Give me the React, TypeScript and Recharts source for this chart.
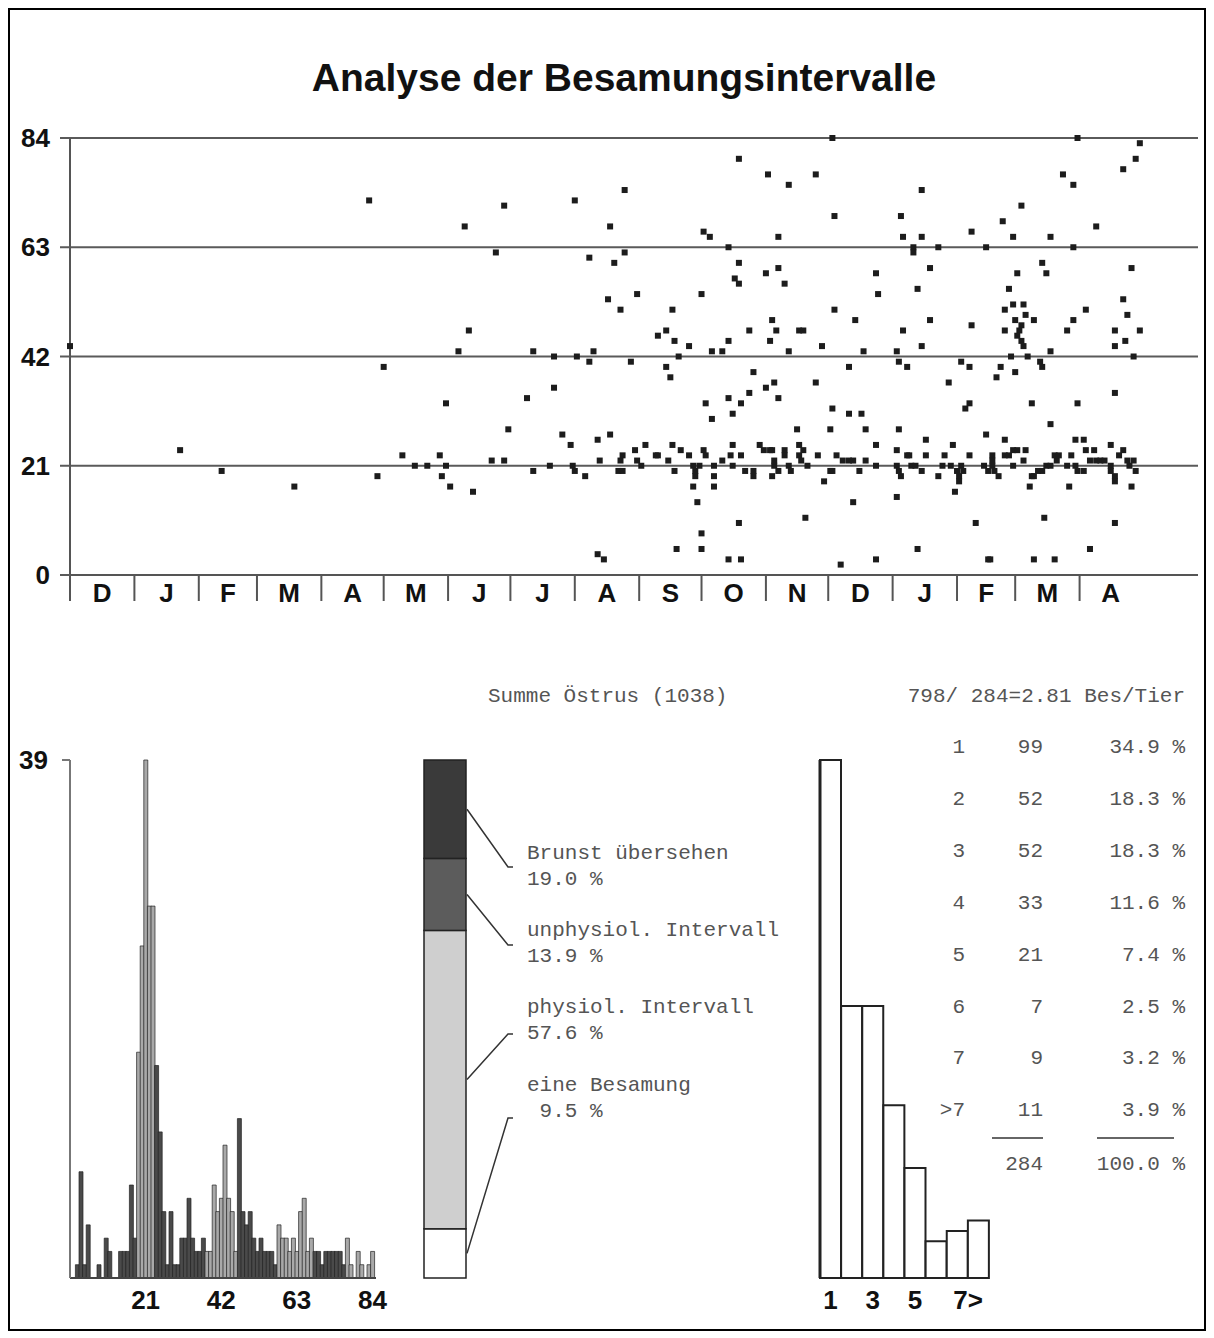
import React from 'react';
import { ScatterChart, Scatter, XAxis, YAxis, CartesianGrid, ReferenceLine, BarChart, Bar, Cell } from 'recharts';

// ---- data ----
const monthLabels = ['D', 'J', 'F', 'M', 'A', 'M', 'J', 'J', 'A', 'S', 'O', 'N', 'D', 'J', 'F', 'M', 'A'];
const monthLengths = [31, 31, 28, 31, 30, 31, 30, 31, 31, 30, 31, 30, 31, 31, 28, 31, 30];
const intervalTicks = [0, 21, 42, 63, 84];

// [day since 1 Dec, interval in days]
const scatterPoints: [number, number][] = [
  [0, 44], [144, 72], [190, 67], [209, 71], [243, 72], [205, 62], [192, 47], [187, 43], [223, 43], [233, 42], [244, 42],
  [151, 40], [181, 33], [220, 34], [233, 36], [211, 28], [237, 27], [241, 25], [53, 24], [73, 20], [108, 17], [148, 19],
  [160, 23], [166, 21], [172, 21], [178, 23], [181, 21], [179, 19], [183, 17], [194, 16], [203, 22], [209, 22], [223, 20],
  [231, 21], [242, 21], [243, 20],
  [322, 80], [336, 77], [267, 74], [260, 67], [305, 66], [308, 65], [317, 63], [341, 65], [250, 61], [262, 60], [267, 62],
  [322, 60], [320, 57], [322, 56], [335, 58], [341, 59], [259, 53], [273, 54], [265, 51], [304, 54], [290, 51], [338, 49],
  [340, 47], [327, 47], [337, 45], [283, 46], [287, 47], [291, 45], [298, 44], [317, 45], [309, 43], [314, 43], [250, 41],
  [252, 43], [270, 41], [287, 40], [289, 38], [293, 42], [329, 39], [335, 36], [339, 37], [341, 34], [306, 33], [309, 30],
  [317, 34], [319, 31], [323, 33], [327, 35], [254, 26], [260, 27], [255, 22], [248, 19], [265, 22], [266, 23], [264, 20],
  [266, 20], [272, 24], [273, 22], [275, 21], [277, 25], [282, 23], [283, 23], [290, 25], [288, 22], [291, 20], [294, 24],
  [298, 23], [300, 21], [301, 20], [301, 19], [305, 24], [306, 23], [303, 21], [300, 17], [302, 14], [304, 8], [304, 5],
  [292, 5], [310, 21], [310, 19], [310, 17], [314, 22], [319, 25], [318, 23], [319, 21], [323, 23], [322, 10], [317, 3],
  [323, 3], [254, 4], [257, 3], [325, 20], [329, 20], [329, 19], [332, 25], [334, 24], [337, 24], [338, 24], [339, 22],
  [338, 19],
  [367, 84], [346, 75], [359, 77], [410, 74], [368, 69], [400, 69], [401, 65], [406, 63], [406, 62], [410, 65], [418, 63],
  [434, 66], [441, 63], [344, 56], [388, 58], [389, 54], [414, 59], [408, 55], [368, 51], [378, 49], [414, 49], [434, 48],
  [351, 47], [353, 47], [362, 44], [346, 43], [382, 43], [398, 43], [399, 41], [403, 40], [401, 47], [410, 44], [375, 40],
  [429, 41], [433, 40], [359, 37], [423, 37], [367, 32], [375, 31], [381, 31], [431, 32], [433, 33], [350, 28], [366, 28],
  [383, 28], [399, 28], [441, 27], [388, 25], [412, 26], [425, 25],
  [339, 21], [341, 20], [344, 24], [344, 23], [346, 21], [347, 20], [351, 25], [351, 23], [352, 22], [353, 24], [355, 21],
  [360, 23], [363, 18], [366, 20], [367, 20], [369, 23], [372, 22], [375, 22], [377, 22], [380, 20], [383, 22], [388, 21],
  [398, 24], [398, 21], [399, 20], [400, 19], [403, 23], [404, 23], [405, 21], [407, 21], [410, 20], [412, 23], [418, 19],
  [420, 21], [421, 23], [424, 21], [427, 20], [428, 19], [429, 21], [430, 20], [428, 18], [433, 23], [440, 21], [442, 20],
  [354, 11], [377, 14], [398, 15], [426, 16], [436, 10], [371, 2], [388, 3], [408, 5], [442, 3],
  [485, 84], [515, 83], [513, 80], [507, 78], [478, 77], [483, 75], [458, 71], [449, 68], [494, 67], [454, 65], [472, 65],
  [483, 63], [468, 60], [470, 58], [456, 58], [511, 59], [452, 55], [507, 53], [450, 51], [454, 52], [459, 52], [489, 51],
  [509, 50], [450, 47], [455, 49], [458, 48], [460, 50], [464, 49], [457, 47], [456, 46], [458, 45], [459, 44], [483, 49],
  [480, 47], [503, 47], [508, 45], [515, 47], [503, 44], [453, 42], [461, 42], [467, 41], [468, 40], [472, 43], [512, 42],
  [448, 40], [446, 38], [455, 39], [503, 35], [463, 33], [485, 33], [472, 29], [450, 26], [484, 26], [488, 26], [501, 25],
  [444, 23], [444, 22], [444, 21], [445, 20], [447, 19], [450, 23], [452, 23], [454, 24], [454, 21], [456, 24], [459, 22],
  [460, 24], [463, 19], [464, 19], [466, 20], [468, 20], [470, 21], [472, 21], [474, 23], [475, 22], [476, 23], [480, 21],
  [482, 23], [484, 21], [485, 20], [488, 20], [489, 24], [491, 22], [493, 24], [494, 22], [496, 22], [498, 22], [501, 21],
  [501, 20], [503, 19], [503, 18], [505, 23], [507, 24], [509, 22], [510, 21], [512, 22], [513, 20],
  [462, 17], [481, 17], [511, 17], [469, 11], [503, 10], [491, 5], [443, 3], [464, 3], [474, 3],
];

// interval histogram, days 1..84
const intervalCounts = [
  0, 1, 8, 1, 4, 0, 0, 1, 0, 3, 2, 0, 0, 2, 2, 2, 7, 3, 17, 25, 39, 28, 28, 16, 11, 5, 1, 5, 1, 1,
  3, 3, 6, 3, 2, 2, 3, 2, 2, 7, 5, 6, 10, 6, 5, 2, 12, 5, 4, 5, 3, 2, 3, 2, 2, 2, 1, 4, 3, 3,
  2, 3, 2, 5, 6, 2, 3, 2, 2, 1, 2, 2, 2, 2, 2, 1, 3, 1, 0, 2, 1, 0, 1, 2,
];
const physioRanges = [[19, 23], [38, 46], [58, 67], [77, 84]];

// stacked bar, bottom to top
const oestrusNames = ['eine Besamung', 'physiol. Intervall', 'unphysiol. Intervall', 'Brunst übersehen'];
const oestrusShares = [9.5, 57.6, 13.9, 19.0];
const oestrusTotal = 1038;

// insemination count per animal
const besCategories = ['1', '2', '3', '4', '5', '6', '7', '>7'];
const besCounts = [99, 52, 52, 33, 21, 7, 9, 11];
const besAxisLabels = ['1', '', '3', '', '5', '', '7>', ''];
const totalInsem = 798;

// ---- derived ----
const monthStarts = monthLengths.map((_, i) => monthLengths.slice(0, i).reduce((a, b) => a + b, 0));
const monthMids = monthStarts.map((s, i) => s + monthLengths[i] / 2);
const scatterData = scatterPoints.map(([day, interval]) => ({ day, interval }));
const histData = intervalCounts.map((count, i) => ({ bin: i + 1, count }));
const stackRow: Record<string, any> = { name: 'all' };
oestrusNames.forEach((n, i) => { stackRow['s' + i] = oestrusShares[i]; });
const besData = besCategories.map((cat, i) => ({ cat, count: besCounts[i] }));
const totalAnimals = besCounts.reduce((a, b) => a + b, 0);

const BOLD = { fontFamily: 'Arial, "Liberation Sans", sans-serif', fontWeight: 'bold' as const, fontSize: 26, fill: '#111' };
const MONO = '"Courier New", "Liberation Mono", monospace';
const TEXT_GRAY = '#555';

const segFills = ['#ffffff', '#cfcfcf', '#5c5c5c', '#3a3a3a'];
const labelRowY = [355, 277, 200, 123];   // line-1 centre of each label, chart coords
const leaderEndY = [388, 304, 215, 137];

const isPhysio = (bin: number) => physioRanges.some(([a, b]) => bin >= a && bin <= b);

const SquareDot = (p: any) => <rect x={p.cx - 3} y={p.cy - 3} width={6} height={6} fill="#1c1c1c" />;

const makeSegShape = (k: number) => (p: any) => {
  const { x, y, width, height } = p;
  const top = Math.min(y, y + height);
  const h = Math.abs(height);
  const midY = top + h / 2;
  const ly = labelRowY[k];
  const ey = leaderEndY[k];
  const pct = oestrusShares[k].toFixed(1).padStart(4, ' ') + ' %';
  return (
    <g>
      <rect x={x} y={top} width={width} height={h} fill={segFills[k]} stroke="#222" strokeWidth={1.5} />
      <polyline points={`${x + width + 1},${midY} ${108},${ey} ${113},${ey}`} fill="none" stroke="#333" strokeWidth={1.5} />
      <text x={127} y={ly} dominantBaseline="central" fontFamily={MONO} fontSize={21} fill={TEXT_GRAY} style={{ whiteSpace: 'pre' }}>{oestrusNames[k]}</text>
      <text x={127} y={ly + 26} dominantBaseline="central" fontFamily={MONO} fontSize={21} fill={TEXT_GRAY} style={{ whiteSpace: 'pre' }}>{pct}</text>
    </g>
  );
};

const BesTick = (p: any) => {
  const label = besAxisLabels[p.index] ?? '';
  const wide = label.length > 1;
  return (
    <text x={wide ? p.x - 4 : p.x} y={p.y} dy="0.71em" textAnchor={wide ? 'start' : 'middle'} {...BOLD}>{label}</text>
  );
};

const pos = (left: number, top: number) => ({ position: 'absolute' as const, left: left - 10, top: top - 10 });

export default function App() {
  const monoText = { fontFamily: MONO, fontSize: 21, color: TEXT_GRAY, lineHeight: '22px', whiteSpace: 'pre' as const };
  return (
    <div style={{ position: 'relative', width: 1198, height: 1323, border: '2px solid #000', boxSizing: 'border-box', background: '#fff' }}>
      <div style={{ ...pos(224, 59), width: 800, textAlign: 'center', fontFamily: 'Arial, "Liberation Sans", sans-serif', fontWeight: 'bold', fontSize: 39, lineHeight: '38px', color: '#111' }}>
        Analyse der Besamungsintervalle
      </div>

      <div style={pos(10, 100)}>
        <ScatterChart width={1196} height={540} margin={{ top: 38, right: 8, bottom: 25, left: 10 }}>
          <CartesianGrid horizontal vertical={false} stroke="#5a5a5a" strokeWidth={2} />
          <XAxis type="number" dataKey="day" domain={[0, 543]} ticks={monthMids} interval={0}
            tickFormatter={(v: number, i: number) => monthLabels[i]} tickLine={false} tickSize={6} tickMargin={3}
            axisLine={{ stroke: '#555', strokeWidth: 2 }} tick={BOLD} height={40} />
          <YAxis type="number" dataKey="interval" domain={[0, 84]} ticks={intervalTicks} interval={0} width={50}
            tickSize={10} tickMargin={10} tickLine={{ stroke: '#5a5a5a', strokeWidth: 2 }}
            axisLine={{ stroke: '#555', strokeWidth: 2 }} tick={BOLD} />
          {monthStarts.map((d) => (
            <ReferenceLine key={d} segment={[{ x: d, y: 0 }, { x: d, y: -5 }]} ifOverflow="visible" stroke="#555" strokeWidth={2} />
          ))}
          <Scatter data={scatterData} isAnimationActive={false} shape={SquareDot} />
        </ScatterChart>
      </div>

      <div style={pos(10, 730)}>
        <BarChart width={400} height={600} data={histData} margin={{ top: 30, right: 34, bottom: 12, left: 10 }} barCategoryGap={0}>
          <XAxis type="number" dataKey="bin" domain={[0, 85]} ticks={[21, 42, 63, 84]} interval={0} tickLine={false}
            tickMargin={7} axisLine={{ stroke: '#444', strokeWidth: 2 }} tick={BOLD} height={40} />
          <YAxis type="number" domain={[0, 39]} ticks={[39]} width={50} tickSize={8} tickMargin={14}
            tickLine={{ stroke: '#777', strokeWidth: 2 }} axisLine={{ stroke: '#777', strokeWidth: 2 }} tick={BOLD} />
          <Bar dataKey="count" isAnimationActive={false} stroke="#222" strokeWidth={0.7}>
            {histData.map((d) => (
              <Cell key={d.bin} fill={isPhysio(d.bin) ? '#a9a9a9' : '#4a4a4a'} />
            ))}
          </Bar>
        </BarChart>
      </div>

      <div style={{ ...pos(488, 686), ...monoText }}>{`Summe Östrus (${oestrusTotal})`}</div>
      <div style={pos(400, 730)}>
        <BarChart width={400} height={600} data={[stackRow]} margin={{ top: 30, right: 334, bottom: 52, left: 24 }} barCategoryGap={0}>
          <XAxis dataKey="name" hide />
          <YAxis type="number" domain={[0, 100]} hide />
          {oestrusNames.map((n, k) => (
            <Bar key={n} dataKey={'s' + k} stackId="o" isAnimationActive={false} shape={makeSegShape(k)} />
          ))}
        </BarChart>
      </div>

      <div style={pos(800, 730)}>
        <BarChart width={220} height={600} data={besData} margin={{ top: 30, right: 31, bottom: 12, left: 19 }} barCategoryGap={0}>
          <XAxis dataKey="cat" interval={0} tickLine={false} tickMargin={7} tick={BesTick}
            axisLine={{ stroke: '#222', strokeWidth: 2 }} height={40} />
          <YAxis type="number" domain={[0, 99]} tick={false} width={1} axisLine={{ stroke: '#222', strokeWidth: 3 }} />
          <Bar dataKey="count" fill="#fff" stroke="#222" strokeWidth={2} isAnimationActive={false} />
        </BarChart>
      </div>

      <div style={{ ...pos(885, 686), width: 300, textAlign: 'right', ...monoText }}>
        {`${totalInsem}/ ${totalAnimals}=${(totalInsem / totalAnimals).toFixed(2)} Bes/Tier`}
      </div>
      {besCategories.map((c, i) => {
        const top = 737 + i * 51.9;
        return (
          <React.Fragment key={c}>
            <div style={{ ...pos(905, top), width: 60, textAlign: 'right', ...monoText }}>{c}</div>
            <div style={{ ...pos(983, top), width: 60, textAlign: 'right', ...monoText }}>{besCounts[i]}</div>
            <div style={{ ...pos(1045, top), width: 140, textAlign: 'right', ...monoText }}>{`${(besCounts[i] / totalAnimals * 100).toFixed(1)} %`}</div>
          </React.Fragment>
        );
      })}
      <div style={{ ...pos(992, 1137), width: 51, height: 0, borderTop: '2px solid #666' }} />
      <div style={{ ...pos(1097, 1137), width: 77, height: 0, borderTop: '2px solid #666' }} />
      <div style={{ ...pos(983, 1154), width: 60, textAlign: 'right', ...monoText }}>{totalAnimals}</div>
      <div style={{ ...pos(1045, 1154), width: 140, textAlign: 'right', ...monoText }}>{`${(100).toFixed(1)} %`}</div>
    </div>
  );
}
